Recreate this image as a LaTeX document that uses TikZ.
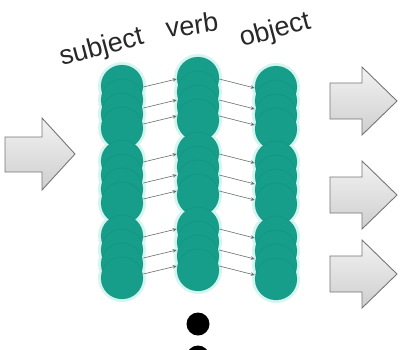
\documentclass[tikz,border=0pt]{standalone}
\usepackage{fontspec}
\setmainfont{Liberation Sans}
\usetikzlibrary{arrows.meta,calc}
\definecolor{tealc}{RGB}{22,158,138}
\definecolor{tealedge}{RGB}{14,120,104}
\definecolor{glowc}{RGB}{212,246,240}
\definecolor{arrgray}{RGB}{100,112,110}
\definecolor{blockedge}{RGB}{118,118,118}
\definecolor{txt}{RGB}{40,40,40}
\begin{document}
\begin{tikzpicture}[x=1pt,y=-1pt,
  unit/.style={circle,minimum size=42pt,inner sep=0pt,fill=tealc,draw=tealedge,draw opacity=0.25,line width=0.6pt},
  glow/.style={circle,minimum size=48pt,inner sep=0pt,fill=glowc},
  link/.style={draw=arrgray,line width=0.6pt,-{Stealth[length=4pt,width=3.5pt]}},
  block/.style={draw=blockedge,line width=0.9pt,top color=gray!10,bottom color=gray!38,line join=miter},
  lbl/.style={font=\fontsize{27}{27}\selectfont,text=txt,inner sep=0pt,anchor=base west},
  dot/.style={circle,fill=black,minimum size=23pt,inner sep=0pt}]
\clip (0,0) rectangle (401,349);
\fill[white] (0,0) rectangle (401,349);
% glow
\foreach \cx/\cy in {122/86, 198/78, 276/87} {
  \foreach \g in {0,1,2}
    \foreach \k in {0,1,2,3}
      \node[glow] at (\cx,\cy+75*\g+14*\k) {};
}
% units: \col\g\k  (group g, circle k)
\foreach \col/\cx/\cy in {s/122/86, v/198/78, o/276/87} {
  \foreach \g in {1,2,3}
    \foreach \k in {1,2,3,4}
      \node[unit] (\col\g\k) at (\cx,\cy+75*\g-75+14*\k-14) {};
}
% links
\foreach \g in {1,2,3} {
  \foreach \o in {1,22,38} {
    \draw[link] ($(s\g1.east)+(0,\o)$) -- ($(v\g1.west)+(0,\o)$);
    \draw[link] ($(v\g1.east)+(0,\o)$) -- ($(o\g1.west)+(0,\o)$);
  }
}
% labels
\node[lbl,rotate=15] (subj) at (62,66) {subject};
\node[lbl,rotate=8] (verb) at (167,38) {verb};
\node[lbl,rotate=15] (obj) at (242,47) {object};
% block arrows
\draw[block] (5,137) -- (42,137) -- (42,118) -- (75,154) -- (42,190) -- (42,172) -- (5,172) -- cycle;
\foreach \ty in {101,195,274} {
  \draw[block] (330,\ty-18) -- (362,\ty-18) -- (362,\ty-34) -- (397,\ty) -- (362,\ty+34) -- (362,\ty+18) -- (330,\ty+18) -- cycle;
}
% dots
\node[dot] (d1) at (198,324) {};
\node[dot] (d2) at (198,357) {};
\end{tikzpicture}
\end{document}
